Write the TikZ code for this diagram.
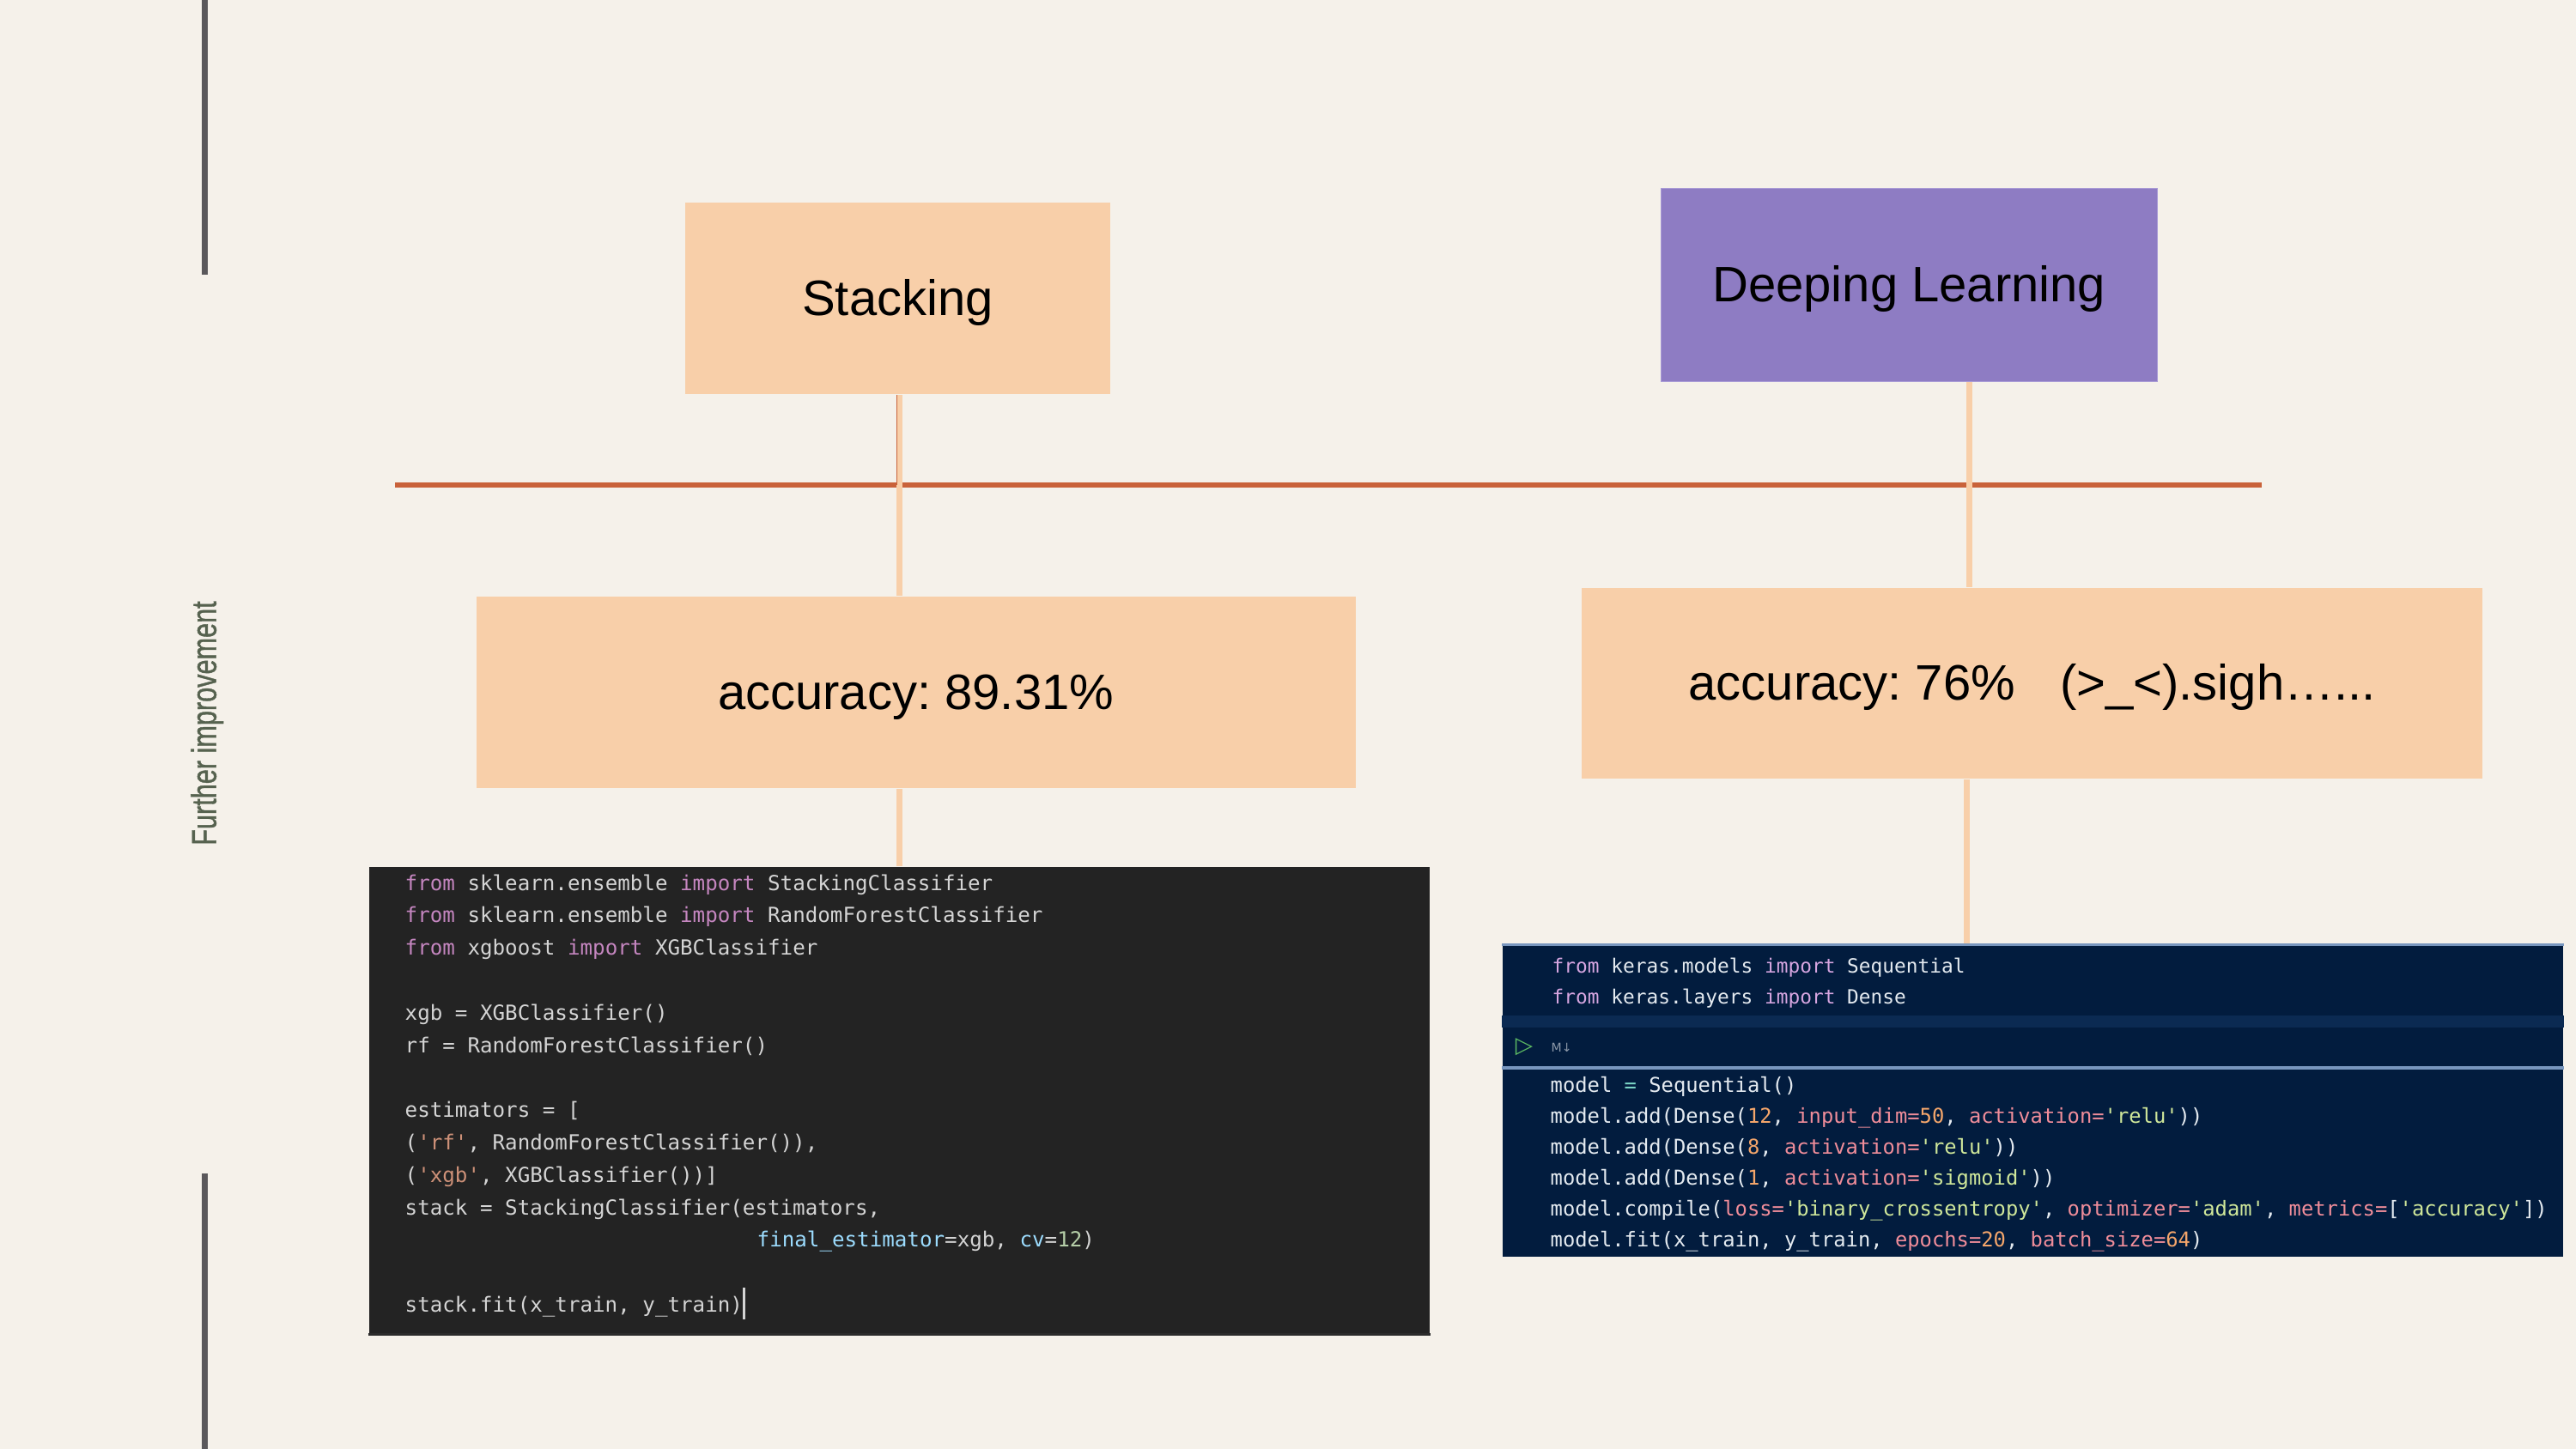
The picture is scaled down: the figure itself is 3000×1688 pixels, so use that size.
\documentclass[tikz,border=0pt]{standalone}
\usepackage{fontspec}
\setmainfont{Liberation Sans}
\newfontfamily\codefont{DejaVu Sans Mono}
\newfontfamily\symfont{DejaVu Sans}
\definecolor{bg}{HTML}{F5F1EA}
\definecolor{peach}{HTML}{F8CFA9}
\definecolor{purp}{HTML}{8E7CC3}
\definecolor{purpedge}{HTML}{A99BD6}
\definecolor{rust}{HTML}{C9623A}
\definecolor{barg}{HTML}{5A585B}
\definecolor{sideg}{HTML}{56624F}
\definecolor{cbg}{HTML}{232323}
\definecolor{cbgb}{HTML}{2B2B2B}
\definecolor{nbg}{HTML}{021C3E}
\definecolor{nband}{HTML}{0B2A52}
\definecolor{nsep}{HTML}{7896BE}
\definecolor{vkw}{HTML}{C586C0}
\definecolor{vtx}{HTML}{D4D4D4}
\definecolor{vstr}{HTML}{CE9178}
\definecolor{vprm}{HTML}{9CDCFE}
\definecolor{vnum}{HTML}{B5CEA8}
\definecolor{nkw}{HTML}{D7A6E1}
\definecolor{ntx}{HTML}{E4EAF0}
\definecolor{neqc}{HTML}{7FDBCA}
\definecolor{nnum}{HTML}{F5A66B}
\definecolor{narg}{HTML}{F08D9A}
\definecolor{nstr}{HTML}{CFE79A}
\definecolor{ngreen}{HTML}{5DBB63}
\definecolor{ngray}{HTML}{8C98A8}
\newcommand\sq{\textquotesingle}
\newcommand\ckw[1]{\textcolor{vkw}{#1}}
\newcommand\cstr[1]{\textcolor{vstr}{#1}}
\newcommand\cprm[1]{\textcolor{vprm}{#1}}
\newcommand\cnum[1]{\textcolor{vnum}{#1}}
\newcommand\dkw[1]{\textcolor{nkw}{#1}}
\newcommand\dstr[1]{\textcolor{nstr}{#1}}
\newcommand\darg[1]{\textcolor{narg}{#1}}
\newcommand\dnum[1]{\textcolor{nnum}{#1}}
\newcommand\deqs[1]{\textcolor{neqc}{#1}}
\tikzset{
  box/.style={rectangle, inner sep=0pt, fill=peach, font=\fontsize{16.5}{19.8}\selectfont, text=black, text height=11.2pt, text depth=0pt},
  conn/.style={draw=peach, line width=2pt},
  codebox/.style={rectangle, inner sep=0pt, draw=none},
  vcode/.style={anchor=base west, inner sep=0pt, text=vtx, font=\codefont\fontsize{6.88}{8}\selectfont},
  ncode/.style={anchor=base west, inner sep=0pt, text=ntx, font=\codefont\fontsize{6.77}{8}\selectfont},
  ncodesm/.style={anchor=base west, inner sep=0pt, text=ntx, font=\codefont\fontsize{6.49}{8}\selectfont},
}
\begin{document}
\begin{tikzpicture}[x=0.01cm, y=-0.01cm]
\frenchspacing
\useasboundingbox (0,0) rectangle (3000,1688);
\fill[bg] (0,0) rectangle (3000,1688);

% left gray bars
\fill[barg] (235,0) rectangle (241.5,320);
\fill[barg] (235,1367) rectangle (241.5,1688);

% side title
\node[rotate=90, anchor=base, inner sep=0pt, text=sideg, draw=none, font=\fontsize{11.5}{13}\selectfont] (side) at (251.7,842.5) {\scalebox{0.758}[1]{\addfontfeature{FakeBold=1.2}Further improvement}};

% horizontal rule
\coordinate (hl1) at (460,565);
\coordinate (hl2) at (2634,565);
\draw[rust, line width=1.9pt] (hl1) -- (hl2);

% boxes
\node[box, minimum width=4.942cm, minimum height=2.233cm] (stack) at (1045.5,347.6) {Stacking};
\node[box, fill=purp, draw=purpedge, line width=0.3pt, minimum width=5.781cm, minimum height=2.243cm] (dl) at (2223.3,332.1) {Deeping Learning};
\node[box, minimum width=10.235cm, minimum height=2.23cm] (acc1) at (1066.7,806.5) {accuracy: 89.31\%};
\node[box, minimum width=10.486cm, minimum height=2.22cm] (acc2) at (2366.6,796) {accuracy: 76\%\hspace{0.62em} (>\_<).sigh…...};

% code boxes
\node[codebox, fill=cbg, minimum width=12.342cm, minimum height=5.45cm] (code1) at (1047.5,1282.5) {};
\node[codebox, fill=nbg, minimum width=12.35cm, minimum height=3.64cm] (code2) at (2367.5,1282) {};

% code box details
\fill[cbgb] (code1.south west) rectangle ([yshift=0.031cm]code1.south east);
\fill[nsep] (code2.north west) rectangle ([yshift=-0.03cm]code2.north east);
\fill[nband] (code2.north west |- 0,1183) rectangle (code2.north east |- 0,1197);
\fill[nsep] (code2.north west |- 0,1242) rectangle (code2.north east |- 0,1245.5);

% connectors
\coordinate (dlx) at (2293,0);
\coordinate (dlx2) at (2290,0);
\draw[conn] ([xshift=0.02cm]stack.south) -- ([xshift=0.02cm]stack.south |- acc1.north);
\draw[rust, line width=0.55pt] ([xshift=-0.01cm]stack.south) -- ([xshift=-0.01cm]stack.south |- hl1);
\draw[conn] (dl.south -| dlx) -- (acc2.north -| dlx);
\draw[conn] ([xshift=0.02cm]acc1.south -| stack.south) -- ([xshift=0.02cm]code1.north -| stack.south);
\draw[conn] (acc2.south -| dlx2) -- (code2.north -| dlx2);

% code 1 text
\node[vcode] (c1l0) at (471,1037) {\ckw{from} sklearn.ensemble \ckw{import} StackingClassifier};
\node[vcode] (c1l1) at (471,1074.8) {\ckw{from} sklearn.ensemble \ckw{import} RandomForestClassifier};
\node[vcode] (c1l2) at (471,1112.6) {\ckw{from} xgboost \ckw{import} XGBClassifier};
\node[vcode] (c1l4) at (471,1188.2) {xgb = XGBClassifier()};
\node[vcode] (c1l5) at (471,1226) {rf = RandomForestClassifier()};
\node[vcode] (c1l7) at (471,1301.6) {estimators = [};
\node[vcode] (c1l8) at (471,1339.4) {(\cstr{\sq rf\sq}, RandomForestClassifier()),};
\node[vcode] (c1l9) at (471,1377.2) {(\cstr{\sq xgb\sq}, XGBClassifier())]};
\node[vcode] (c1l10) at (471,1415) {stack = StackingClassifier(estimators,};
\node[vcode] (c1l11) at (881,1452.8) {\cprm{final\_estimator}=xgb, \cprm{cv}=\cnum{12})};
\node[vcode] (c1l13) at (471,1528.4) {stack.fit(x\_train, y\_train)};
\fill[vtx] (864.5,1500) rectangle (867.5,1537);

% code 2 text
\node[ncodesm] (c2l0) at (1807,1133) {\dkw{from} keras.models \dkw{import} Sequential};
\node[ncodesm] (c2l1) at (1807,1169) {\dkw{from} keras.layers \dkw{import} Dense};
\node[anchor=center, inner sep=0pt, text=ngreen, font=\symfont\fontsize{7.5}{8}\selectfont] (run) at (1775,1220) {▷};
\node[anchor=west, inner sep=0pt, text=ngray, font=\symfont\fontsize{4}{4.5}\selectfont] (md) at (1806,1220) {M↓};
\node[ncode] (c2l2) at (1805,1272) {model \deqs{=} Sequential()};
\node[ncode] (c2l3) at (1805,1308) {model.add(Dense(\dnum{12}, \darg{input\_dim=}\dnum{50}, \darg{activation=}\dstr{\sq relu\sq}))};
\node[ncode] (c2l4) at (1805,1344) {model.add(Dense(\dnum{8}, \darg{activation=}\dstr{\sq relu\sq}))};
\node[ncode] (c2l5) at (1805,1380) {model.add(Dense(\dnum{1}, \darg{activation=}\dstr{\sq sigmoid\sq}))};
\node[ncode] (c2l6) at (1805,1416) {model.compile(\darg{loss=}\dstr{\sq binary\_crossentropy\sq}, \darg{optimizer=}\dstr{\sq adam\sq}, \darg{metrics=}[\dstr{\sq accuracy\sq}])};
\node[ncode] (c2l7) at (1805,1452) {model.fit(x\_train, y\_train, \darg{epochs=}\dnum{20}, \darg{batch\_size=}\dnum{64})};
\end{tikzpicture}
\end{document}
